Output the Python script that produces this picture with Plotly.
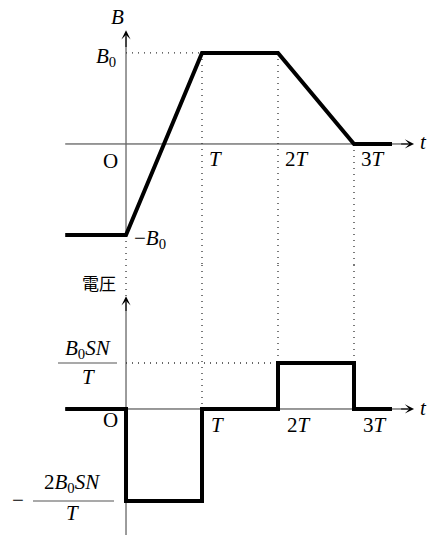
import plotly.graph_objects as go

# Magnetic flux density B(t) through the coil (in units of B0, time in units of T)
t_flux = [-0.8, 0, 1, 2, 3, 3.5]
b_flux = [-1, -1, 1, 1, 0, 0]

# Induced voltage (in units of B0*S*N/T)
t_volt = [-0.8, 0, 0, 1, 1, 2, 2, 3, 3, 3.5]
v_volt = [0, 0, -2, -2, 0, 0, 1, 1, 0, 0]

# Tick positions on the time axis and their labels
t_ticks = [1, 2, 3]
t_tick_labels = ["<i>T</i>", "2<i>T</i>", "3<i>T</i>"]

SERIF = "Liberation Serif"
FS = 21
AX_COLOR = "#333333"
Y_COLOR = "#666666"
DOT = dict(color="#333333", width=1.3, dash="1px,5px")

TOP_RANGE = [-1.33, 1.582]
BOT_RANGE = [-2.783, 3.13]

fig = go.Figure()

fig.add_trace(go.Scatter(x=t_flux, y=b_flux, mode="lines",
                         line=dict(color="black", width=4),
                         xaxis="x", yaxis="y", hoverinfo="skip"))
fig.add_trace(go.Scatter(x=t_volt, y=v_volt, mode="lines",
                         line=dict(color="black", width=4),
                         xaxis="x", yaxis="y2", hoverinfo="skip"))

shapes = []


def seg(x0, y0, x1, y1, yref, line, layer="below"):
    shapes.append(dict(type="line", xref="x", yref=yref, x0=x0, y0=y0,
                       x1=x1, y1=y1, line=line, layer=layer))


# axes
seg(-0.8, 0, 3.72, 0, "y", dict(color=AX_COLOR, width=1))
seg(0, -1, 0, 1.18, "y", dict(color=Y_COLOR, width=1.3))
seg(-0.8, 0, 3.72, 0, "y2", dict(color=AX_COLOR, width=1))
seg(0, -2.74, 0, 2.33, "y2", dict(color=Y_COLOR, width=1.3))

# dotted guides
b_max = max(b_flux)
v_max = max(v_volt)
seg(0, b_max, 1, b_max, "y", DOT)
seg(1, b_max, 1, TOP_RANGE[0], "y", DOT)
seg(1, BOT_RANGE[1], 1, 0, "y2", DOT)
seg(2, b_max, 2, TOP_RANGE[0], "y", DOT)
seg(2, BOT_RANGE[1], 2, v_max, "y2", DOT)
seg(3, 0, 3, TOP_RANGE[0], "y", DOT)
seg(3, BOT_RANGE[1], 3, v_max, "y2", DOT)
seg(0, -1, 0, TOP_RANGE[0], "y", DOT)
seg(0, BOT_RANGE[1], 0, 2.43, "y2", DOT)
seg(0, v_max, 2, v_max, "y2", DOT)

# fraction bars
seg(-0.895, 1, -0.118, 1, "y2", dict(color="#555555", width=1.2), layer="above")
seg(-1.224, -2, -0.158, -2, "y2", dict(color="#555555", width=1.2), layer="above")

annotations = []


def arrow(x, y, ax, ay, yref):
    annotations.append(dict(x=x, y=y, ax=ax, ay=ay, xref="x", yref=yref,
                            axref="x", ayref=yref, text="", showarrow=True,
                            arrowhead=3, arrowsize=1.4, arrowwidth=1.1,
                            arrowcolor="black"))


arrow(3.79, 0, 3.6, 0, "y")
arrow(0, 1.25, 0, 1.05, "y")
arrow(3.79, 0, 3.6, 0, "y2")
arrow(0, 2.45, 0, 2.1, "y2")


def label(text, x, y, yref, xanchor="center", yanchor="middle", size=FS,
          family=SERIF):
    annotations.append(dict(text=text, x=x, y=y, xref="x", yref=yref,
                            xanchor=xanchor, yanchor=yanchor, showarrow=False,
                            font=dict(family=family, size=size, color="black")))


# flux panel labels
label("<i>B</i>", -0.118, 1.396, "y")
label("<i>B</i><sub>0</sub>", -0.1, 0.96, "y", xanchor="right")
label("O", -0.21, -0.187, "y")
for tk, tl in zip(t_ticks, t_tick_labels):
    label(tl, tk + 0.07, -0.165, "y", xanchor="left")
label("<i>t</i>", 3.92, 0.02, "y")
label("\u2212<i>B</i><sub>0</sub>", 0.08, -1.04, "y", xanchor="left")

# voltage panel labels
label("電圧", -0.1, 2.76, "y2", xanchor="right", size=17,
      family="Noto Sans CJK JP")
label("<i>B</i><sub>0</sub><i>SN</i>", -0.5, 1.3, "y2")
label("<i>T</i>", -0.5, 0.7, "y2")
label("O", -0.21, -0.24, "y2")
for tk, tl in zip(t_ticks, t_tick_labels):
    label(tl, tk + 0.09, -0.34, "y2", xanchor="left")
label("<i>t</i>", 3.92, 0.02, "y2")
label("\u2212", -1.42, -1.98, "y2")
label("2<i>B</i><sub>0</sub><i>SN</i>", -0.71, -1.62, "y2")
label("<i>T</i>", -0.71, -2.26, "y2")

fig.update_layout(
    width=430, height=537,
    margin=dict(l=0, r=0, t=0, b=0),
    paper_bgcolor="white", plot_bgcolor="white",
    showlegend=False,
    xaxis=dict(range=[-1.658, 4.0], visible=False, fixedrange=True),
    yaxis=dict(range=TOP_RANGE, domain=[0.5065, 1.0], visible=False,
               fixedrange=True),
    yaxis2=dict(range=BOT_RANGE, domain=[0.0, 0.5065], visible=False,
                anchor="x", fixedrange=True),
    shapes=shapes,
    annotations=annotations,
)

fig.write_html("out.html")
